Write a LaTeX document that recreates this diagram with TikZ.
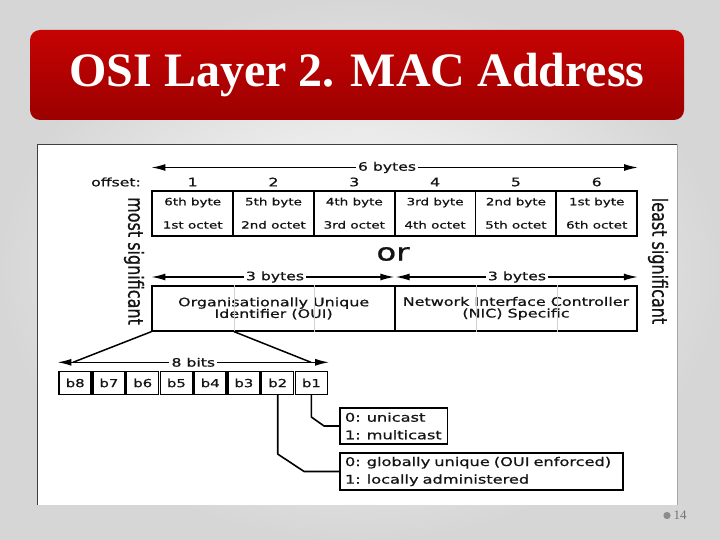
\documentclass[tikz,border=0pt]{standalone}
\usepackage{fontspec}
\usetikzlibrary{arrows.meta}
\newfontfamily\dv[FakeStretch=1.35,FakeBold=0.8]{DejaVu Sans}
\newfontfamily\dvn{DejaVu Sans}[FakeBold=0.8]
\newfontfamily\titlefont{Liberation Serif}
\newcommand\mytightlines{\lineskiplimit=-20pt\relax}
\newcommand\mynohyph{\hyphenpenalty=10000\relax}
\definecolor{redtop}{HTML}{C60303}
\definecolor{redbot}{HTML}{9C0000}
\definecolor{ink}{HTML}{141414}
\begin{document}
\begin{tikzpicture}[x=1pt,y=-1pt,
  titlebox/.style={rounded corners=10pt, top color=redtop, bottom color=redbot, draw=none,
    minimum width=654pt, minimum height=90pt, inner sep=0pt, text=white,
    font=\titlefont\bfseries\fontsize{48}{50}\selectfont},
  cell/.style={draw=black, line width=1.8pt, minimum width=80.8pt, minimum height=45pt,
    inner sep=0pt, align=center, text=ink, font=\dv\fontsize{10}{23.3}\selectfont},
  half/.style={draw=black, line width=1.8pt, minimum width=242.7pt, minimum height=44.7pt,
    inner sep=0pt, align=center, text=ink,
    font={\dv\fontsize{11.8}{11.6}\selectfont\mytightlines}},
  bit/.style={draw=black, line width=1.5pt, minimum width=32pt, minimum height=22.6pt,
    inner sep=0pt, text=ink, font=\dv\fontsize{11}{12}\selectfont},
  info/.style={draw=black, line width=1.8pt, inner xsep=5pt, inner ysep=0pt, align=left,
    text=ink, font={\dv\fontsize{12}{17.6}\selectfont\mynohyph}},
  lab/.style={inner sep=2pt, text=ink, font=\dv\fontsize{11.6}{13}\selectfont},
  side/.style={inner sep=0pt, text=ink, rotate=-90, font=\dvn\fontsize{16}{18}\selectfont},
  arr/.style={line width=1.4pt, -{Latex[length=14pt,width=7pt]}},
  conn/.style={line width=1.6pt, line join=round},
  faint/.style={line width=0.8pt, draw=black!18}
]
\useasboundingbox (0,0) rectangle (720,540);
% slide background
\shade[inner color=white, outer color=black!16] (0,0) rectangle (720,540);
% title
\node[titlebox] (title) at (357,75) {OSI Layer 2. MAC Address};
% diagram frame
\fill[white] (37,144) rectangle (678,505);
\draw[black!75, line width=1.6pt] (37.5,505) -- (37.5,144.5) -- (678,144.5);
\draw[black!35, line width=0.8pt] (677.5,144.5) -- (677.5,505);
% byte cells
\node[cell] (c1) at (192.7,213.2) {6th byte\\1st octet};
\node[cell] (c2) at (273.5,213.2) {5th byte\\2nd octet};
\node[cell] (c3) at (354.3,213.2) {4th byte\\3rd octet};
\node[cell] (c4) at (435.1,213.2) {3rd byte\\4th octet};
\node[cell] (c5) at (515.9,213.2) {2nd byte\\5th octet};
\node[cell] (c6) at (596.7,213.2) {1st byte\\6th octet};
% offsets
\node[lab] (off) at (116,182) {offset:};
\node[lab] (o1) at (192.7,182) {1};
\node[lab] (o2) at (273.5,182) {2};
\node[lab] (o3) at (354.3,182) {3};
\node[lab] (o4) at (435.1,182) {4};
\node[lab] (o5) at (515.9,182) {5};
\node[lab] (o6) at (596.7,182) {6};
% 6 bytes arrow
\node[lab] (six) at (387,167.5) {6 bytes};
\draw[arr] (six) -- (six -| c1.west);
\draw[arr] (six) -- (six -| c6.east);
% side labels
\node[side] (most) at (134,261) {\scalebox{1}[1.3]{most significant}};
\node[side] (least) at (658,261) {\scalebox{1}[1.3]{least significant}};
% or
\node[inner sep=0pt, text=ink, font=\dv\fontsize{24}{26}\selectfont] (or) at (393,254) {or};
% OUI / NIC
\node[half] (oui) at (273.65,308.4) {Organisationally Unique\\Identifier (OUI)};
\node[half, minimum width=242pt] (nic) at (516,308.4) {Network Interface Controller\\(NIC) Specific};
\draw[faint] (c1.east |- oui.north) -- (c1.east |- oui.south);
\draw[faint] (c2.east |- oui.north) -- (c2.east |- oui.south);
\draw[faint] (c4.east |- nic.north) -- (c4.east |- nic.south);
\draw[faint] (c5.east |- nic.north) -- (c5.east |- nic.south);
\node[lab] (tb1) at (275,277) {3 bytes};
\draw[arr] (tb1) -- (tb1 -| oui.west);
\draw[arr] (tb1) -- ([xshift=-1.5pt]tb1 -| oui.east);
\node[lab] (tb2) at (517,277) {3 bytes};
\draw[arr] (tb2) -- ([xshift=1.5pt]tb2 -| nic.west);
\draw[arr] (tb2) -- (tb2 -| nic.east);
% bits
\node[bit] (b8) at (75.2,383) {b8};
\node[bit] (b7) at (108.9,383) {b7};
\node[bit] (b6) at (142.7,383) {b6};
\node[bit] (b5) at (176.4,383) {b5};
\node[bit] (b4) at (210.2,383) {b4};
\node[bit] (b3) at (243.9,383) {b3};
\node[bit] (b2) at (277.7,383) {b2};
\node[bit] (b1) at (311.4,383) {b1};
\node[lab] (eight) at (193.3,362.3) {8 bits};
\draw[arr] (eight) -- ([xshift=-1pt]eight -| b8.west);
\draw[arr] (eight) -- ([xshift=1pt]eight -| b1.east);
\coordinate (dl) at (73,362.3);
\coordinate (dr) at (311,362.3);
\draw[line width=1.5pt] (oui.south west) -- (dl);
\draw[line width=1.5pt] (c1.east |- oui.south) -- (dr);
% info boxes
\node[info, text width=97.5pt, minimum height=36pt] (uni) at (393.7,426) {0: unicast\\1: multicast};
\node[info, text width=273pt, minimum height=37pt] (glob) at (481.5,471.5) {0: globally unique (OUI enforced)\\1: locally administered};
\draw[conn] (b1.south) -- ++(0,22) -- ([xshift=-15pt]uni.west) -- (uni.west);
\draw[conn] (b2.south) -- ++(0,59) -- ([xshift=-35pt]glob.west) -- (glob.west);
% page number
\fill[black!45] (667,515.5) circle (3.6pt);
\node[inner sep=0pt, text=black!55, font=\titlefont\fontsize{13}{14}\selectfont] (pg) at (680,515) {14};
\end{tikzpicture}
\end{document}
